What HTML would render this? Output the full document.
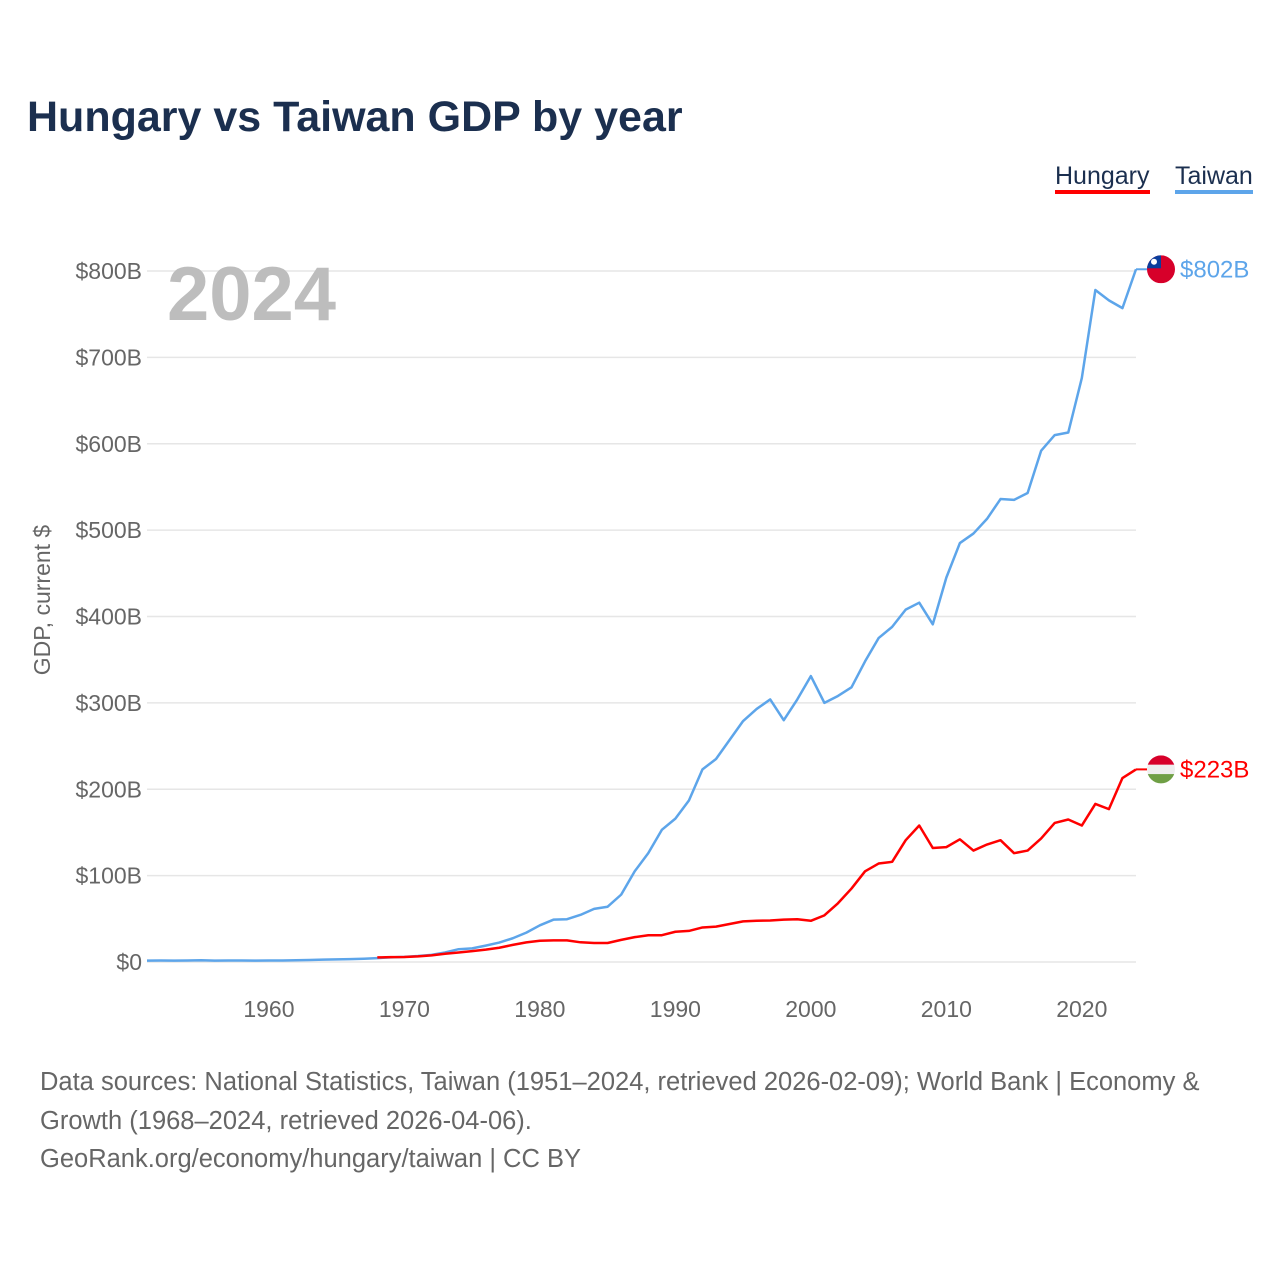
<!DOCTYPE html>
<html><head><meta charset="utf-8"><style>
body{margin:0;background:#fff;font-family:"Liberation Sans",sans-serif;}
#wrap{position:relative;width:1280px;height:1280px;overflow:hidden;}
.t{position:absolute;white-space:nowrap;}
</style></head><body>
<div id="wrap">
<div class="t" style="left:27px;top:93px;font-size:43px;font-weight:bold;color:#1b2f4f;">Hungary vs Taiwan GDP by year</div>
<div class="t" style="left:1055px;top:162px;font-size:25px;color:#1b2f4f;border-bottom:4px solid #f00;line-height:28px;">Hungary</div>
<div class="t" style="left:1175px;top:162px;font-size:25px;color:#1b2f4f;border-bottom:4px solid #5da5ea;line-height:28px;">Taiwan</div>
<svg id="chart" width="1280" height="1280" style="position:absolute;left:0;top:0"></svg>
<div class="t" style="left:40px;top:1063px;font-size:25.5px;line-height:38.5px;color:#666;">Data sources: National Statistics, Taiwan (1951–2024, retrieved 2026-02-09); World Bank | Economy &amp;<br>Growth (1968–2024, retrieved 2026-04-06).<br>GeoRank.org/economy/hungary/taiwan | CC BY</div>
</div>
<script>
const twYears=[1951,1952,1953,1954,1955,1956,1957,1958,1959,1960,1961,1962,1963,1964,1965,1966,1967,1968,1969,1970,1971,1972,1973,1974,1975,1976,1977,1978,1979,1980,1981,1982,1983,1984,1985,1986,1987,1988,1989,1990,1991,1992,1993,1994,1995,1996,1997,1998,1999,2000,2001,2002,2003,2004,2005,2006,2007,2008,2009,2010,2011,2012,2013,2014,2015,2016,2017,2018,2019,2020,2021,2022,2023,2024];
const twValues=[1.6,1.7,1.6,1.8,2.0,1.6,1.8,1.8,1.6,1.7,1.8,2.0,2.3,2.7,3.0,3.3,3.8,4.5,5.3,5.9,6.9,8.3,11,14.8,15.8,19,22.5,27.5,34,42.5,49,49.5,54.6,61.5,64,78,105,126,153,166,187,223,235,257,279,293,304,280,304,331,300,308,318,348,375,388,408,416,391,445,485,496,513,536,535,543,592,610,613,676,778,766,757,802];
const huYears=[1968,1969,1970,1971,1972,1973,1974,1975,1976,1977,1978,1979,1980,1981,1982,1983,1984,1985,1986,1987,1988,1989,1990,1991,1992,1993,1994,1995,1996,1997,1998,1999,2000,2001,2002,2003,2004,2005,2006,2007,2008,2009,2010,2011,2012,2013,2014,2015,2016,2017,2018,2019,2020,2021,2022,2023,2024];
const huValues=[5.3,5.6,5.8,6.5,7.7,9.6,11,12.6,14.3,16.5,19.8,22.7,24.6,25,25,22.8,22,22,25.6,28.8,31,31,35,36,40,41,44,47,47.8,48,49,49.5,47.7,54,68,85,105,114,116,141,158,132,133,142,129,136,141,126,129,143,161,165,158,183,177,213,223];
const yTicks=[0,100,200,300,400,500,600,700,800];
const yTickLabels=["$0","$100B","$200B","$300B","$400B","$500B","$600B","$700B","$800B"];
const xTicks=[1960,1970,1980,1990,2000,2010,2020];
const X=y=>147+(y-1951)*(1136-147)/73;
const Y=v=>962-v*(962-271)/800;
const svg=document.getElementById('chart');
const NS='http://www.w3.org/2000/svg';
function mk(tag,attrs){const e=document.createElementNS(NS,tag);for(const k in attrs)e.setAttribute(k,attrs[k]);svg.appendChild(e);return e;}
yTicks.forEach((v,i)=>{
 const g=mk('line',{x1:147,x2:1136,y1:Y(v),y2:Y(v),stroke:'#e6e6e6','stroke-width':1.5});
 
 
 const t=mk('text',{x:142,y:Y(v)+8,'text-anchor':'end','font-size':23,fill:'#666','font-family':'Liberation Sans, sans-serif'});
 t.textContent=yTickLabels[i];
 
 
});
xTicks.forEach(y=>{
 const t=mk('text',{x:X(y),y:1017,'text-anchor':'middle','font-size':23,fill:'#666','font-family':'Liberation Sans, sans-serif'});
 t.textContent=y;
 
 
});
const yt=mk('text',{x:0,y:0,transform:'translate(50,600) rotate(-90)','text-anchor':'middle','font-size':23,fill:'#666','font-family':'Liberation Sans, sans-serif'});
yt.textContent='GDP, current $';


const yr=mk('text',{x:167,y:320,'font-size':76,'font-weight':'bold',fill:'#bdbdbd','font-family':'Liberation Sans, sans-serif'});
yr.textContent='2024';


function series(years,vals,color,name){
 const p=mk('polyline',{points:years.map((y,i)=>X(y)+','+Y(vals[i])).join(' '),fill:'none',stroke:color,'stroke-width':2.5,'stroke-linejoin':'round'});
 
 
}
series(twYears,twValues,'#5da5ea','taiwan-line');
series(huYears,huValues,'#f00','hungary-line');
const twEnd=twValues[twValues.length-1], huEnd=huValues[huValues.length-1];
const ty=Y(twEnd), hy=Y(huEnd);
const lt=mk('line',{x1:X(2024),x2:1147,y1:ty,y2:ty,stroke:'#5da5ea','stroke-width':2});


const lh=mk('line',{x1:X(2024),x2:1147,y1:hy,y2:hy,stroke:'#f00','stroke-width':2});


const cp1=mk('clipPath',{id:'c1'});cp1.innerHTML='<circle cx="1161" cy="'+ty+'" r="14"/>';
const fg1=mk('g',{'clip-path':'url(#c1)'});


fg1.innerHTML='<rect x="1147" y="'+(ty-14)+'" width="28" height="28" fill="#d7002a"/><rect x="1147" y="'+(ty-14)+'" width="14" height="13" fill="#0a3d9c"/><circle cx="1154" cy="'+(ty-7.5)+'" r="3" fill="#fff"/>';
svg.appendChild(fg1);
const cp2=mk('clipPath',{id:'c2'});cp2.innerHTML='<circle cx="1161" cy="'+hy+'" r="14"/>';
const fg2=mk('g',{'clip-path':'url(#c2)'});


fg2.innerHTML='<rect x="1147" y="'+(hy-14)+'" width="28" height="9.4" fill="#d7002a"/><rect x="1147" y="'+(hy-4.6)+'" width="28" height="9.4" fill="#eee"/><rect x="1147" y="'+(hy+4.7)+'" width="28" height="9.4" fill="#6f9f45"/>';
svg.appendChild(fg2);
const tl=mk('text',{x:1180,y:ty+8,'font-size':24,fill:'#5da5ea','font-family':'Liberation Sans, sans-serif'});
tl.textContent='$'+Math.round(twEnd)+'B';


const hl=mk('text',{x:1180,y:hy+8,'font-size':24,fill:'#f00','font-family':'Liberation Sans, sans-serif'});
hl.textContent='$'+Math.round(huEnd)+'B';


</script>
</body></html>
